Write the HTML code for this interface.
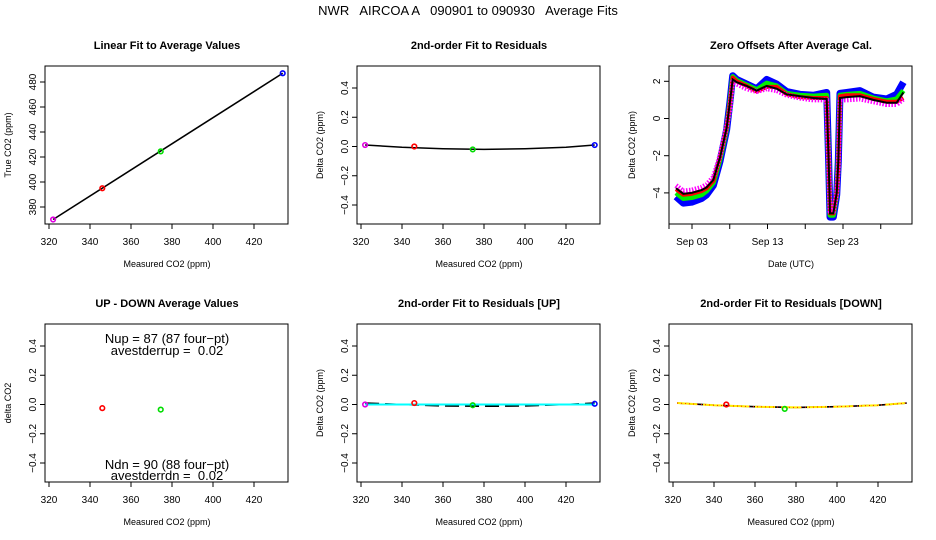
<!DOCTYPE html>
<html><head><meta charset="utf-8"><style>
html,body{margin:0;padding:0;background:#fff;}
svg{display:block;font-family:"Liberation Sans",sans-serif;}
</style></head><body>
<svg id="chart" width="936" height="540" viewBox="0 0 936 540">
<rect width="936" height="540" fill="#fff"/>
<text x="468" y="15" text-anchor="middle" font-size="13" style="white-space:pre" xml:space="preserve">NWR   AIRCOA A   090901 to 090930   Average Fits</text>
</svg>
<script>
// Panel 1 data
const p1X = [322, 346, 374.5, 434];
const p1Y = [370, 395, 424.5, 487];
const p1Colors = ['#e000e0', '#ff0000', '#00dd00', '#0000ff'];
const p1XTicks = [320, 340, 360, 380, 400, 420];
const p1YTicks = [380, 400, 420, 440, 460, 480];
// Panel 2 data
const p2Res = [0.01, 0.0, -0.02, 0.01];
const fitX = [322, 340, 360, 380, 400, 420, 434];
const fitY = [0.01, -0.005, -0.015, -0.02, -0.015, -0.005, 0.01];
const resTicks = [-0.4, -0.2, 0.0, 0.2, 0.4];
// Panel 3 data
const tsDays = [0.88,1.85,2.96,4.28,4.94,5.83,6.71,7.59,8.03,8.39,8.92,10.24,11.57,12.89,14.22,15.54,17.3,19.07,20.84,21.1,21.28,21.72,22.17,22.38,22.6,23.49,25.25,27.01,28.79,30.1,31.0];
const tsBlack = [-3.75,-4.05,-4.0,-3.85,-3.7,-3.3,-2.1,-0.5,0.9,2.1,1.95,1.75,1.5,1.75,1.6,1.3,1.2,1.1,1.05,-2.3,-5.1,-5.1,-4.0,-2.3,1.1,1.15,1.2,1.0,0.85,0.85,1.4];
const tsBlue = [-4.2,-4.55,-4.5,-4.3,-4.1,-3.6,-2.3,-0.6,0.9,2.3,2.1,1.85,1.6,2.1,1.85,1.45,1.3,1.25,1.4,-2.3,-5.3,-5.3,-4.1,-2.3,1.35,1.4,1.5,1.15,1.05,1.3,1.95];
const tsGreen = [-4.0,-4.3,-4.25,-4.1,-3.9,-3.45,-2.2,-0.55,0.9,2.25,2.05,1.8,1.55,1.9,1.75,1.35,1.25,1.2,1.25,-2.3,-5.2,-5.2,-4.05,-2.3,1.25,1.3,1.35,1.1,0.95,1.05,1.5];
const tsRed = [-3.8,-4.1,-4.05,-3.9,-3.75,-3.35,-2.1,-0.5,0.9,2.2,2.0,1.75,1.45,1.7,1.7,1.3,1.15,1.1,1.1,-2.3,-5.1,-5.1,-4.0,-2.6,1.2,1.25,1.25,1.05,0.9,0.9,1.1];
const tsMagenta = [-3.6,-3.9,-3.85,-3.7,-3.55,-3.15,-2.0,-0.4,0.5,2.0,1.85,1.6,1.45,1.6,1.5,1.25,1.1,1.0,1.0,-2.3,-5.0,-5.0,-4.0,-2.6,1.0,1.0,1.05,0.9,0.75,0.75,1.05];
const tsYTicks = [-4, -2, 0, 2];
const tsXTickDays = [3, 13, 23];
const tsXTickLabels = ['Sep 03', 'Sep 13', 'Sep 23'];
const tsMinorDays = [8, 18, 28];
// Panel 4 data
const p4X = [346, 374.5];
const p4Y = [-0.025, -0.035];
const p4Colors = ['#ff0000', '#00dd00'];
// Panel 5 data
const p5Res = [0.0, 0.01, -0.005, 0.005];
const p5FitY = [0.01, 0.0, -0.01, -0.012, -0.01, 0.0, 0.01];
const p5CyanY = [0.0, 0.0, 0.0, 0.0, 0.0, 0.0, 0.0];
// Panel 6 data
const p6Res = [0.01, 0.0, -0.03, 0.005];
const p6FitY = [0.01, -0.005, -0.015, -0.02, -0.015, -0.005, 0.01];

const NS = 'http://www.w3.org/2000/svg';
const svg = document.getElementById('chart');
function mk(tag, attrs, parent) {
  const e = document.createElementNS(NS, tag);
  for (const k in attrs) e.setAttribute(k, attrs[k]);
  (parent || svg).appendChild(e);
  return e;
}
function fmt(v, d) { const s = v.toFixed(d); return s.replace('-', '\u2212'); }

function panel(col, row, title, xlab, ylab, name) {
  const ox = 312 * col, oy = 258 * row;
  const g = mk('g', {});
  
  
  const b = { g, x0: 45 + ox, x1: 288 + ox, y0: 66 + oy, y1: 224 + oy, ox, oy };
  const t = mk('text', { x: 167 + ox, y: 49 + oy, 'text-anchor': 'middle', 'font-size': 11, 'font-weight': 'bold' }, g);
  t.textContent = title;
  
  
  const xl = mk('text', { x: 167 + ox, y: 267 + oy, 'text-anchor': 'middle', 'font-size': 9 }, g);
  xl.textContent = xlab;
  
  
  const yl = mk('text', { x: 0, y: 0, 'text-anchor': 'middle', 'font-size': 9, transform: `translate(${11 + ox},${145 + oy}) rotate(-90)` }, g);
  yl.textContent = ylab;
  
  
  const r = mk('rect', { x: b.x0, y: b.y0, width: b.x1 - b.x0, height: b.y1 - b.y0, fill: 'none', stroke: '#000', 'stroke-width': 1 }, g);
  
  
  return b;
}
function xAxis(b, ticks, sx, labels) {
  const g = mk('g', {}, b.g);
  
  
  mk('line', { x1: sx(ticks[0]), x2: sx(ticks[ticks.length - 1]), y1: b.y1, y2: b.y1, stroke: '#000' }, g);
  ticks.forEach((v, i) => {
    mk('line', { x1: sx(v), x2: sx(v), y1: b.y1, y2: b.y1 + 5, stroke: '#000' }, g);
    const t = mk('text', { x: sx(v), y: b.y1 + 21, 'text-anchor': 'middle', 'font-size': 10 }, g);
    t.textContent = labels ? labels[i] : String(v);
    
    
  });
}
function yAxis(b, ticks, sy, dec) {
  const g = mk('g', {}, b.g);
  
  
  mk('line', { x1: b.x0, x2: b.x0, y1: sy(ticks[0]), y2: sy(ticks[ticks.length - 1]), stroke: '#000' }, g);
  ticks.forEach(v => {
    mk('line', { x1: b.x0 - 5, x2: b.x0, y1: sy(v), y2: sy(v), stroke: '#000' }, g);
    const t = mk('text', { x: 0, y: 0, 'text-anchor': 'middle', 'font-size': 10, transform: `translate(${b.x0 - 9},${sy(v)}) rotate(-90)` }, g);
    t.textContent = fmt(v, dec);
    
    
  });
}
function co2X(b) { return v => b.x0 + 4 + (v - 320) * 2.05; }
function resY(b) { return v => 146.5 + b.oy - v * 146.25; }
function pt(b, x, y, c) {
  const e = mk('circle', { cx: x, cy: y, r: 2.3, fill: 'none', stroke: c, 'stroke-width': 1.6 }, b.g);
  
  
}
function line(b, xs, ys, sx, sy, attrs, name) {
  const e = mk('polyline', Object.assign({ fill: 'none', points: xs.map((x, i) => sx(x) + ',' + sy(ys[i])).join(' ') }, attrs), b.g);
  
  
  return e;
}

// Panel 1
{
  const b = panel(0, 0, 'Linear Fit to Average Values', 'Measured CO2 (ppm)', 'True CO2 (ppm)', 'linear-fit-panel');
  const sx = co2X(b), sy = v => 207 - (v - 380) * 1.25;
  xAxis(b, p1XTicks, sx); yAxis(b, p1YTicks, sy, 0);
  line(b, [p1X[0], p1X[3]], [p1Y[0], p1Y[3]], sx, sy, { stroke: '#000', 'stroke-width': 1.6 }, 'fit-line');
  p1X.forEach((x, i) => pt(b, sx(x), sy(p1Y[i]), p1Colors[i]));
}
// Panel 2
{
  const b = panel(1, 0, '2nd-order Fit to Residuals', 'Measured CO2 (ppm)', 'Delta CO2 (ppm)', 'residual-fit-panel');
  const sx = co2X(b), sy = resY(b);
  xAxis(b, p1XTicks, sx); yAxis(b, resTicks, sy, 1);
  line(b, fitX, fitY, sx, sy, { stroke: '#000', 'stroke-width': 1.5 }, 'fit-curve');
  p1X.forEach((x, i) => pt(b, sx(x), sy(p2Res[i]), p1Colors[i]));
}
// Panel 3
{
  const b = panel(2, 0, 'Zero Offsets After Average Cal.', 'Date (UTC)', 'Delta CO2 (ppm)', 'zero-offsets-panel');
  const sx = d => 692 + (d - 3) * 7.55, sy = v => 118.5 - v * 18.6;
  xAxis(b, tsXTickDays, sx, tsXTickLabels);
  mk('line', { x1: b.x0, x2: sx(28), y1: b.y1, y2: b.y1, stroke: '#000' }, b.g);
  mk('line', { x1: b.x0, x2: b.x0, y1: b.y1, y2: b.y1 + 5, stroke: '#000' }, b.g);
  tsMinorDays.forEach(d => mk('line', { x1: sx(d), x2: sx(d), y1: b.y1, y2: b.y1 + 5, stroke: '#000' }, b.g));
  yAxis(b, tsYTicks, sy, 0);
  line(b, tsDays, tsBlue, sx, sy, { stroke: '#0000ff', 'stroke-width': 7, 'stroke-linejoin': 'round' }, 'series-blue');
  line(b, tsDays, tsGreen, sx, sy, { stroke: '#00ee00', 'stroke-width': 5, 'stroke-linejoin': 'round' }, 'series-green');
  line(b, tsDays, tsRed, sx, sy, { stroke: '#ff0000', 'stroke-width': 4, 'stroke-linejoin': 'round' }, 'series-red');
  line(b, tsDays, tsMagenta, sx, sy, { stroke: '#ff00ff', 'stroke-width': 5, 'stroke-dasharray': '1.5 1.5', 'stroke-linejoin': 'round' }, 'series-magenta');
  line(b, tsDays, tsBlack, sx, sy, { stroke: '#000', 'stroke-width': 2 }, 'series-average');
}
// Panel 4
{
  const b = panel(0, 1, 'UP - DOWN Average Values', 'Measured CO2 (ppm)', 'delta CO2', 'up-down-panel');
  const sx = co2X(b), sy = resY(b);
  xAxis(b, p1XTicks, sx); yAxis(b, resTicks, sy, 1);
  p4X.forEach((x, i) => pt(b, sx(x), sy(p4Y[i]), p4Colors[i]));
  const lines = [['Nup = 87 (87 four\u2212pt)', 339], ['avestderrup =  0.02', 351], ['Ndn = 90 (88 four\u2212pt)', 465], ['avestderrdn =  0.02', 476]];
  lines.forEach(([s, y]) => {
    const t = mk('text', { x: 167, y: y + 4, 'text-anchor': 'middle', 'font-size': 13, style: 'white-space:pre' }, b.g);
    t.textContent = s;
    
    
  });
}
// Panel 5
{
  const b = panel(1, 1, '2nd-order Fit to Residuals [UP]', 'Measured CO2 (ppm)', 'Delta CO2 (ppm)', 'residual-up-panel');
  const sx = co2X(b), sy = resY(b);
  xAxis(b, p1XTicks, sx); yAxis(b, resTicks, sy, 1);
  line(b, fitX, p5FitY, sx, sy, { stroke: '#000', 'stroke-width': 1.6, 'stroke-dasharray': '14 6' }, 'fit-curve');
  line(b, fitX, p5CyanY, sx, sy, { stroke: '#00ffff', 'stroke-width': 2 }, 'fit-curve-up');
  p1X.forEach((x, i) => pt(b, sx(x), sy(p5Res[i]), p1Colors[i]));
}
// Panel 6
{
  const b = panel(2, 1, '2nd-order Fit to Residuals [DOWN]', 'Measured CO2 (ppm)', 'Delta CO2 (ppm)', 'residual-down-panel');
  const sx = co2X(b), sy = resY(b);
  xAxis(b, p1XTicks, sx); yAxis(b, resTicks, sy, 1);
  line(b, fitX, p6FitY, sx, sy, { stroke: '#000', 'stroke-width': 1.6 }, 'fit-curve');
  line(b, fitX, p6FitY, sx, sy, { stroke: '#ffee00', 'stroke-width': 2, 'stroke-dasharray': '20 6' }, 'fit-curve-down');
  line(b, fitX, p6FitY, sx, sy, { stroke: '#ff2200', 'stroke-width': 1, 'stroke-dasharray': '1 3' }, 'fit-curve-down-dots');
  p1X.forEach((x, i) => { if (i === 1 || i === 2) pt(b, sx(x), sy(p6Res[i]), p1Colors[i]); });
}
</script>
</body></html>
